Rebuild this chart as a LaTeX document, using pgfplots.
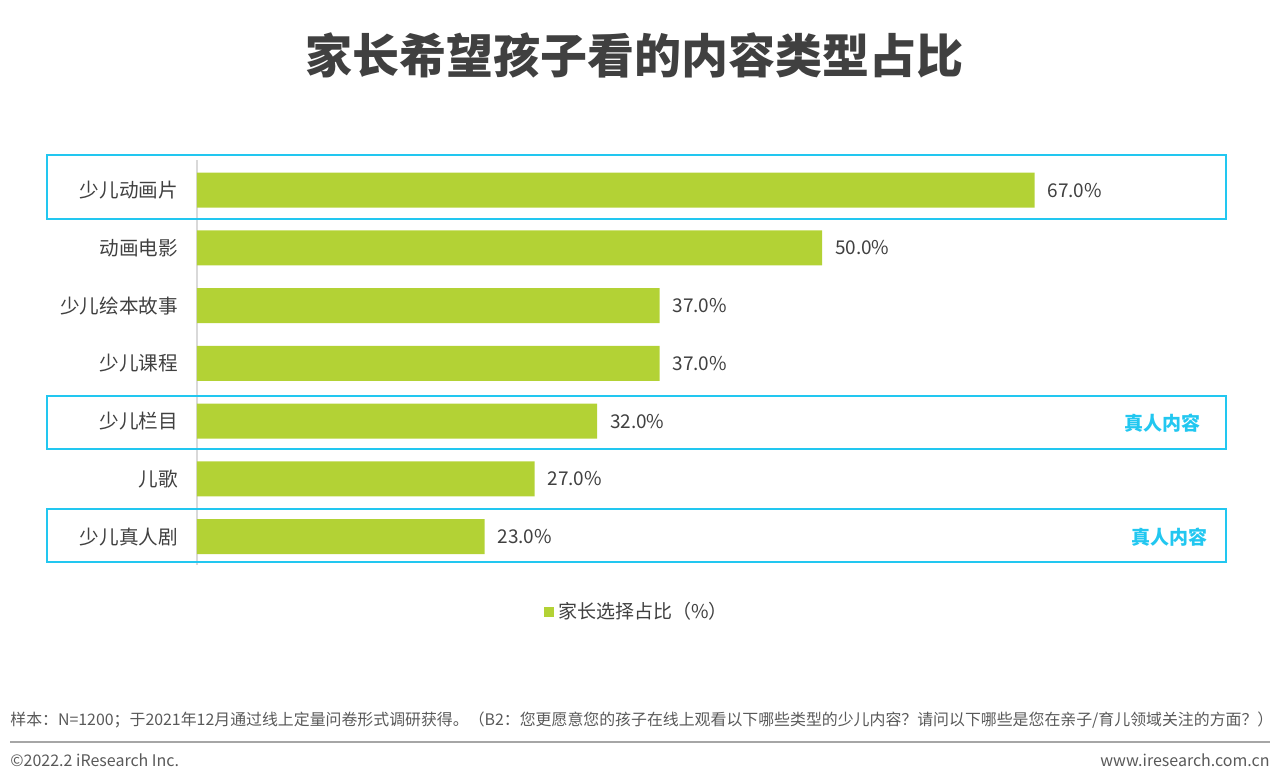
\documentclass[border=0pt]{standalone}
\usepackage{fontspec}
\setmainfont{Noto Sans CJK SC}
\usepackage{pgfplots}
\pgfplotsset{compat=1.18}
\definecolor{barg}{HTML}{B3D235}
\definecolor{boxc}{HTML}{22C7F0}
\definecolor{txt}{HTML}{404040}
\definecolor{foot}{HTML}{595959}
\begin{document}
\begin{tikzpicture}
\path[use as bounding box] (0,0) rectangle (640pt,-391.5pt);
\begin{axis}[
  at={(98.5pt,-282.5pt)}, anchor=south west,
  scale only axis, width=512.5pt, height=202.5pt,
  xbar, bar width=17.5pt,
  xmin=0, xmax=82, ymin=-0.52, ymax=6.49, y dir=reverse,
  axis x line=none, axis y line*=left,
  y axis line style={draw=black!15, line width=0.6pt, -},
  ytick={0,...,6},
  yticklabels={少儿动画片,动画电影,少儿绘本故事,少儿课程,少儿栏目,儿歌,少儿真人剧},
  major tick length=0pt,
  yticklabel style={font=\fontsize{9.8pt}{12pt}\selectfont, text=txt, xshift=-6pt},
  /pgf/number format/assume math mode=true,
  point meta=x,
  nodes near coords={\pgfmathprintnumber[fixed,zerofill,precision=1]{\pgfplotspointmeta}\%},
  every node near coord/.append style={font=\fontsize{9.5pt}{11pt}\selectfont, text=txt, anchor=west, xshift=3pt},
  legend style={draw=none, fill=none, at={(0.43,-0.116)}, anchor=center,
    font=\fontsize{9.5pt}{11pt}\selectfont, text=txt},
  legend image code/.code={\fill[barg] (0pt,-2.6pt) rectangle (5.2pt,2.6pt);},
  clip=false,
]
\addplot[fill=barg, draw=none] coordinates {(67,0) (50,1) (37,2) (37,3) (32,4) (27,5) (23,6)};
\addlegendentry{家长选择占比（\%）}
\end{axis}
\begin{scope}[x=0.5pt,y=-0.5pt]
\node[font=\fontsize{23.5pt}{28pt}\selectfont\bfseries, text=txt] at (634,55) {家长希望孩子看的内容类型占比};
\draw[boxc, line width=1.2pt] (47,155) rectangle (1226,219);
\draw[boxc, line width=1.2pt] (47,396) rectangle (1226,449);
\draw[boxc, line width=1.2pt] (47,509) rectangle (1226,562);
\node[anchor=east, font=\fontsize{9.5pt}{11pt}\selectfont\bfseries, text=boxc, inner sep=0pt] at (1201,423) {真人内容};
\node[anchor=east, font=\fontsize{9.5pt}{11pt}\selectfont\bfseries, text=boxc, inner sep=0pt] at (1208,537) {真人内容};
\node[anchor=west, font=\fontsize{7.95pt}{9pt}\selectfont, text=foot, inner sep=0pt] at (10,720) {样本：N=1200；于2021年12月通过线上定量问卷形式调研获得。（B2：您更愿意您的孩子在线上观看以下哪些类型的少儿内容？请问以下哪些是您在亲子/育儿领域关注的方面？）};
\draw[black!35, line width=0.8pt] (10,742) -- (1270,742);
\node[anchor=west, font=\fontsize{8pt}{9pt}\selectfont, text=foot, inner sep=0pt] at (10,760) {©2022.2 iResearch Inc.};
\node[anchor=east, font=\fontsize{8pt}{9pt}\selectfont, text=foot, inner sep=0pt] at (1270,760) {www.iresearch.com.cn};
\end{scope}
\end{tikzpicture}
\end{document}
